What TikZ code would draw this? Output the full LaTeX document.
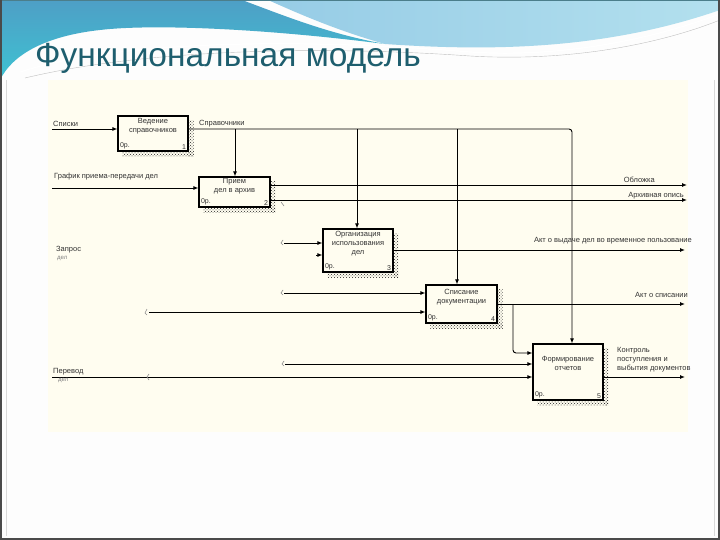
\documentclass[tikz,border=0pt]{standalone}
\usepackage{fontspec}
\setmainfont{Liberation Sans}
\usetikzlibrary{arrows.meta,patterns,calc,backgrounds}
\definecolor{cream}{HTML}{FFFDF0}
\definecolor{slidebg}{HTML}{FDFDFD}
\definecolor{titleteal}{HTML}{1E5E6E}
\definecolor{tealA}{HTML}{4E9FC6}
\definecolor{tealB}{HTML}{3EC2D2}
\definecolor{blueC}{HTML}{96CCE6}
\definecolor{blueD}{HTML}{B3E0EE}
\definecolor{framegray}{HTML}{4A4A4A}
\pgfdeclarelayer{bg0}
\pgfsetlayers{bg0,background,main}
\tikzset{
  fnbox/.style={draw=black, line width=1.2pt, fill=cream, inner sep=0pt},
  btxt/.style={font=\fontsize{7.5}{9}\selectfont, text=black!80, align=center, inner sep=0pt, anchor=north},
  ctxt/.style={font=\fontsize{7}{8}\selectfont, text=black!80, inner sep=0pt},
  ltxt/.style={font=\fontsize{7.5}{9}\selectfont, text=black!80, inner sep=0pt, anchor=west, align=left},
  arr/.style={draw=black, line width=0.9pt, -{Latex[length=5pt,width=4pt]}},
  ln/.style={draw=black, line width=0.9pt},
  tun/.style={draw=black!45, line width=0.6pt},
  shade box/.style={pattern=crosshatch dots, pattern color=black!85}
}
\begin{document}
\begin{tikzpicture}[x=1pt,y=-1pt]
\useasboundingbox (0,0) rectangle (720,540);
% ---------- slide background ----------
\begin{pgfonlayer}{bg0}
\fill[slidebg] (0,0) rectangle (720,540);
% header waves
\shade[top color=tealA, bottom color=tealB]
  (0,0) -- (242,0) .. controls (290,18) and (330,34) .. (385,44)
  .. controls (260,28) and (150,24) .. (100,30)
  .. controls (45,36) and (12,55) .. (0,80) -- cycle;
\shade[left color=blueC, right color=blueD]
  (268,0) -- (720,0) -- (720,10) .. controls (610,48) and (500,52) .. (385,44)
  .. controls (335,30) and (295,12) .. (268,0) -- cycle;
\draw[white, line width=1.2pt] (20,72) .. controls (120,40) and (300,38) .. (470,52)
  .. controls (560,58) and (650,40) .. (720,14);
\draw[black!25, line width=0.4pt] (25,78) .. controls (150,48) and (330,46) .. (470,56)
  .. controls (570,62) and (660,44) .. (720,20);
\fill[titleteal!80] (0,0) rectangle (720,1.5);
% frame
\fill[framegray] (0,0) rectangle (2,540);
\fill[framegray] (718,0) rectangle (720,540);
\fill[framegray] (0,538) rectangle (720,540);
\draw[black!15, line width=0.5pt] (6,80) -- (6,536);
\draw[black!15, line width=0.5pt] (714.5,80) -- (714.5,536);
% diagram panel
\fill[cream] (48,80) rectangle (688,432);
\end{pgfonlayer}
% ---------- title ----------
\node[anchor=base west, text=titleteal, font=\fontsize{33.5}{36}\selectfont, inner sep=0pt] (title) at (35,67) {Функциональная модель};
% ---------- boxes ----------
\node[fnbox, minimum width=70pt, minimum height=35pt] (b1) at (153,133.5) {};
\node[fnbox, minimum width=71pt, minimum height=30pt] (b2) at (234.5,192) {};
\node[fnbox, minimum width=70pt, minimum height=43pt] (b3) at (358,250.5) {};
\node[fnbox, minimum width=71pt, minimum height=38pt] (b4) at (461.5,304) {};
\node[fnbox, minimum width=70pt, minimum height=56pt] (b5) at (568,372) {};
\begin{scope}[on background layer]
\foreach \b in {b1,b2,b3,b4,b5}{
  \fill[shade box] ($(\b.north east)+(0,5)$) rectangle ($(\b.south east)+(5,5)$);
  \fill[shade box] ($(\b.south west)+(5,0)$) rectangle ($(\b.south east)+(5,5)$);
}
\end{scope}
% box texts
\node[btxt] (t1) at ($(b1.north)+(0,3)$) {Ведение\\справочников};
\node[btxt] (t2) at ($(b2.north)+(0,1.5)$) {Прием\\дел в архив};
\node[btxt] (t3) at ($(b3.north)+(0,3)$) {Организация\\использования\\дел};
\node[btxt] (t4) at ($(b4.north)+(0,4.5)$) {Списание\\документации};
\node[btxt] (t5) at ($(b5.north)+(0,13)$) {Формирование\\отчетов};
\foreach \b/\n in {b1/1,b2/2,b3/3,b4/4,b5/5}{
  \node[ctxt, anchor=south west] (\b c) at ($(\b.south west)+(2.5,-2)$) {0р.};
  \node[ctxt, anchor=south east] (\b n) at ($(\b.south east)+(-2.5,-2)$) {\n};
}
% ---------- connectors ----------
% Справочники (control)
\coordinate (inSp) at (52,129);
\coordinate (cSpr) at (572,129);
\coordinate (j2) at (235,129);
\coordinate (j3) at (357,129);
\coordinate (j4) at (457,129);
\draw[arr] (inSp) -- (inSp -| b1.west);
\draw[arr, rounded corners=3pt] (b1.east |- inSp) -- (cSpr) -- (cSpr |- b5.north);
\draw[arr] (j2) -- (j2 |- b2.north);
\draw[arr] (j3) -- (j3 |- b3.north);
\draw[arr] (j4) -- (j4 |- b4.north);
% График
\coordinate (inGr) at (52,188);
\draw[arr] (inGr) -- (inGr -| b2.west);
% outputs of box 2
\coordinate (oObl) at (687,185);
\coordinate (oArh) at (687,200);
\draw[arr] (b2.east |- oObl) -- (oObl);
\draw[arr] (b2.east |- oArh) -- (oArh);
% box 3
\coordinate (t3a) at (284,243);
\coordinate (t3b) at (316,255);
\draw[arr] (t3a) -- (t3a -| b3.west);
\draw[arr] (t3b) -- (t3b -| b3.west);
\coordinate (oAkt) at (685,250);
\draw[arr] (b3.east |- oAkt) -- (oAkt);
% box 4
\coordinate (t4a) at (284,293);
\coordinate (t4b) at (149,312);
\draw[arr] (t4a) -- (t4a -| b4.west);
\draw[arr] (t4b) -- (t4b -| b4.west);
\coordinate (oSp) at (685,304);
\draw[arr] (b4.east |- oSp) -- (oSp);
\coordinate (j5) at (513,304);
\coordinate (k5) at (513,353);
\draw[arr, rounded corners=3pt] (j5) -- (k5) -- (k5 -| b5.west);
% box 5
\coordinate (t5a) at (285,364);
\coordinate (inPer) at (52,377);
\draw[arr] (t5a) -- (t5a -| b5.west);
\draw[arr] (inPer) -- (inPer -| b5.west);
\coordinate (oKon) at (685,377);
\draw[arr] (b5.east |- oKon) -- (oKon);
% tunnel marks
\foreach \p in {t3a,t4a,t5a}{
  \draw[tun] ($(\p)+(-1,-3)$) -- ($(\p)+(-3,0)$) -- ($(\p)+(-1,2)$);
}
\draw[tun] (147,309) -- (145,313) -- (147,315);
\draw[tun] (149,374) -- (147,377) -- (149,380);
\draw[tun] (281,202) -- (284,206);
% ---------- labels ----------
\node[ltxt] (lSp) at (53,123.5) {Списки};
\node[ltxt] (lSpr) at (199,123.5) {Справочники};
\node[ltxt] (lGr) at (54,177) {График приема-передачи дел};
\node[ltxt, anchor=east] (lObl) at (655,180) {Обложка};
\node[ltxt, anchor=east] (lArh) at (684,196) {Архивная опись};
\node[ltxt] (lZap) at (56,250) {Запрос};
\node[ltxt, font=\fontsize{6}{7}\selectfont, text=black!50] (lZap2) at (57,258) {дел};
\node[ltxt, anchor=east] (lAkt) at (692,241) {Акт о выдаче дел во временное пользование};
\node[ltxt, anchor=east] (lAsp) at (688,295) {Акт о списании};
\node[ltxt] (lPer) at (53,372) {Перевод};
\node[ltxt, font=\fontsize{6}{7}\selectfont, text=black!50] (lPer2) at (58,380) {дел};
\node[ltxt, anchor=north west, font=\fontsize{7.5}{9}\selectfont] (lKon) at (617,347) {Контроль\\поступления и\\выбытия документов};
\end{tikzpicture}
\end{document}
